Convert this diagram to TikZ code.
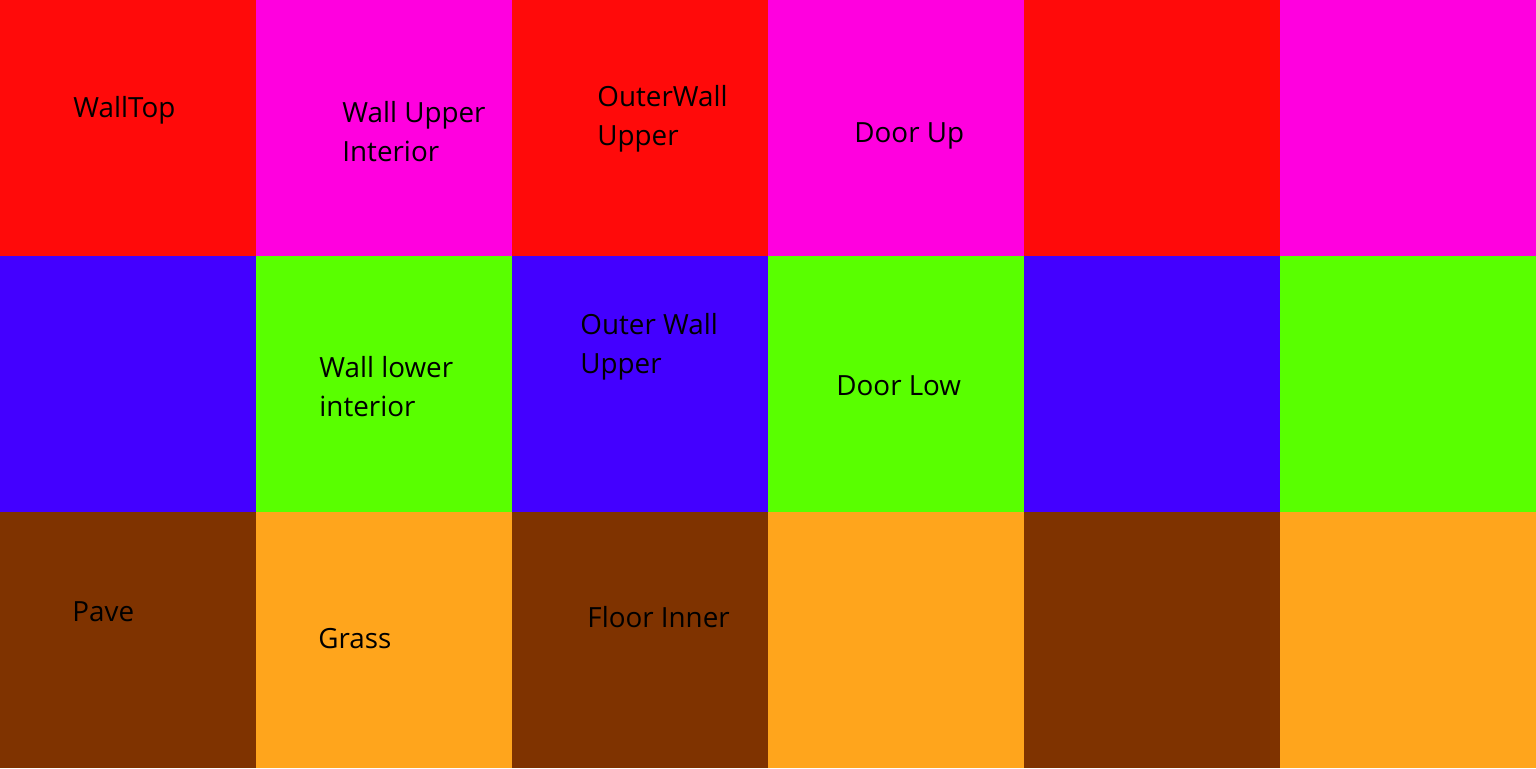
\documentclass[tikz,border=0pt]{standalone}
\usepackage{fontspec}
\setmainfont{Open Sans}
\definecolor{cred}{HTML}{FF0A0A}
\definecolor{cmag}{HTML}{FF00DF}
\definecolor{cblue}{HTML}{4300FF}
\definecolor{cgreen}{HTML}{59FF00}
\definecolor{cbrown}{HTML}{7F3300}
\definecolor{corange}{HTML}{FFA51C}
\begin{document}
\begin{tikzpicture}[x=0.5pt,y=-0.5pt,
  cell/.style={draw=none,minimum width=128pt,minimum height=128pt,inner sep=0pt,outer sep=0pt,anchor=north west},
  lbl/.style={anchor=base west,inner sep=0pt,font=\fontsize{13.9pt}{19.5pt}\selectfont,align=left,text=black}]
\useasboundingbox (0,0) rectangle (1536,768);
% row 1
\node[cell,fill=cred]    (r1c1) at (0,0) {};
\node[cell,fill=cmag]    (r1c2) at (256,0) {};
\node[cell,fill=cred]    (r1c3) at (512,0) {};
\node[cell,fill=cmag]    (r1c4) at (768,0) {};
\node[cell,fill=cred]    (r1c5) at (1024,0) {};
\node[cell,fill=cmag]    (r1c6) at (1280,0) {};
% row 2
\node[cell,fill=cblue]   (r2c1) at (0,256) {};
\node[cell,fill=cgreen]  (r2c2) at (256,256) {};
\node[cell,fill=cblue]   (r2c3) at (512,256) {};
\node[cell,fill=cgreen]  (r2c4) at (768,256) {};
\node[cell,fill=cblue]   (r2c5) at (1024,256) {};
\node[cell,fill=cgreen]  (r2c6) at (1280,256) {};
% row 3
\node[cell,fill=cbrown]  (r3c1) at (0,512) {};
\node[cell,fill=corange] (r3c2) at (256,512) {};
\node[cell,fill=cbrown]  (r3c3) at (512,512) {};
\node[cell,fill=corange] (r3c4) at (768,512) {};
\node[cell,fill=cbrown]  (r3c5) at (1024,512) {};
\node[cell,fill=corange] (r3c6) at (1280,512) {};
% labels (multi-line: anchor at baseline of last line)
\node[lbl] (t1) at (73,117) {WallTop};
\node[lbl] (t2) at (342,161) {Wall Upper\\Interior};
\node[lbl] (t3) at (597,145) {OuterWall\\Upper};
\node[lbl] (t4) at (854,142) {Door Up};
\node[lbl] (t5) at (319,416) {Wall lower\\interior};
\node[lbl] (t6) at (580,373) {Outer Wall\\Upper};
\node[lbl] (t7) at (836,395) {Door Low};
\node[lbl] (t8) at (72,621) {Pave};
\node[lbl] (t9) at (318,648) {Grass};
\node[lbl] (t10) at (587,627) {Floor Inner};
\end{tikzpicture}
\end{document}
